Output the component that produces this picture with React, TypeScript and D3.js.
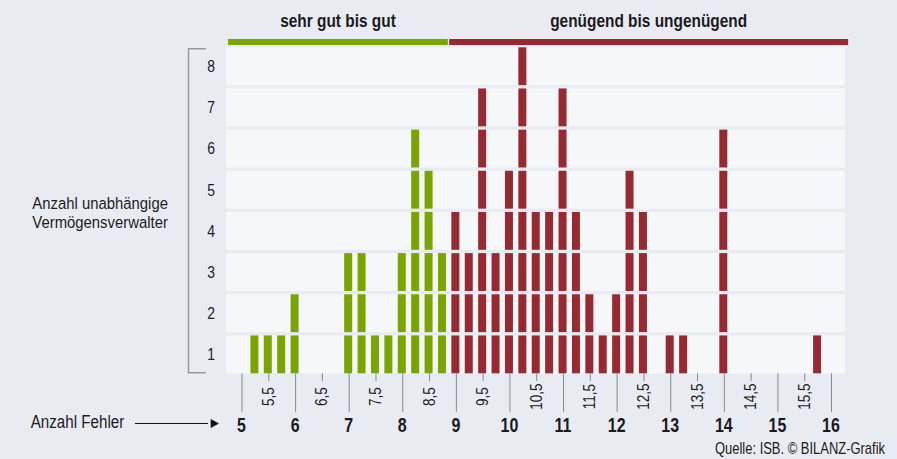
import React from "react";
import * as d3 from "d3";

// Anzahl Fehler (quarter steps) and number of asset managers per value
const fehler = [5.25, 5.5, 5.75, 6, 7, 7.25, 7.5, 7.75, 8, 8.25, 8.5, 8.75, 9, 9.25, 9.5, 9.75, 10, 10.25, 10.5, 10.75, 11, 11.25, 11.5, 11.75, 12, 12.25, 12.5, 13, 13.25, 14, 15.75];
const anzahl = [1, 1, 1, 2, 3, 3, 1, 1, 3, 6, 5, 3, 4, 3, 7, 3, 5, 8, 4, 4, 7, 4, 2, 1, 2, 5, 4, 1, 1, 6, 1];
const majorTicks = [5, 6, 7, 8, 9, 10, 11, 12, 13, 14, 15, 16];
const minorTicks = [5.5, 6.5, 7.5, 8.5, 9.5, 10.5, 11.5, 12.5, 13.5, 14.5, 15.5];
const yRows = [1, 2, 3, 4, 5, 6, 7, 8];
const groupLabels = ["sehr gut bis gut", "genügend bis ungenügend"];
const groupFrom = [4.75, 8.875];
const groupTo = [8.85, 16.32];
const yTitleLines = ["Anzahl unabhängige", "Vermögensverwalter"];
const threshold = 9;

const W = 897;
const H = 459;
const GREEN = "#7aa400";
const RED = "#962932";
const BG = "#e9ebf3";
const BAND = "#f6f7f9";
const TEXT = "#1b1b1b";
const FONT = "'Liberation Sans', Arial, sans-serif";
const NARROW = 0.82;

const plotLeft = 226;
const plotRight = 845;
const plotTop = 47.3;
const plotBottom = 373.3;

type NTProps = {
  x: number;
  y: number;
  size: number;
  anchor?: "start" | "middle" | "end";
  bold?: boolean;
  sx?: number;
  children: React.ReactNode;
};

function NText({ x, y, size, anchor = "start", bold = false, sx = NARROW, children }: NTProps) {
  return (
    <g transform={`translate(${x},${y}) scale(${sx},1)`}>
      <text x={0} y={0} textAnchor={anchor} fontFamily={FONT} fontWeight={bold ? "bold" : "normal"} fontSize={size} fill={TEXT}>
        {children}
      </text>
    </g>
  );
}

export default function App() {
  const x = d3.scaleLinear().domain([5, 16]).range([241.5, 831]);
  const y = d3.scaleBand<number>().domain(yRows).range([plotBottom, plotTop]).paddingInner(0.08).paddingOuter(0);
  const bw = y.bandwidth();
  const barW = 8;

  const rowsFor = (n: number) => d3.range(1, n + 1);

  return (
    <svg width={W} height={H} style={{ position: "absolute", left: 0, top: 0 }}>
      <rect x={0} y={0} width={W} height={H} fill={BG} />

      {/* header groups */}
      {groupLabels.map((lab, i) => {
        const x0 = x(groupFrom[i]);
        const x1 = x(groupTo[i]);
        return (
          <g key={lab}>
            <rect x={x0} y={39} width={x1 - x0} height={6} fill={i === 0 ? GREEN : RED} />
            <NText x={(x0 + x1) / 2} y={26.7} size={18.8} anchor="middle" bold>
              {lab}
            </NText>
          </g>
        );
      })}

      {/* row bands */}
      {yRows.map((r) => (
        <rect key={r} x={plotLeft} y={y(r)} width={plotRight - plotLeft} height={bw} fill={BAND} />
      ))}

      {/* bars */}
      {fehler.map((v, i) => (
        <g key={v}>
          {rowsFor(anzahl[i]).map((r) => (
            <rect key={r} x={x(v) - barW / 2 - 0.5} y={y(r)} width={barW} height={bw} fill={v < threshold ? GREEN : RED} />
          ))}
        </g>
      ))}

      {/* y bracket */}
      <path d={`M206,${plotTop + 1.4}H188.5V${plotBottom - 0.6}H206`} fill="none" stroke="#9a9a9a" strokeWidth={1.5} />
      {yRows.map((r) => (
        <NText key={r} x={211} y={(y(r) as number) + bw / 2 + 5.8} size={17} anchor="middle">
          {r}
        </NText>
      ))}
      {yTitleLines.map((line, i) => (
        <NText key={line} x={32.3} y={208.8 + i * 19.5} size={17.2} sx={0.865}>
          {line}
        </NText>
      ))}

      {/* x axis */}
      {majorTicks.map((t) => (
        <g key={t}>
          <line x1={x(t) + 0.5} x2={x(t) + 0.5} y1={plotBottom} y2={412} stroke="#8a8a8a" strokeWidth={1} />
          <NText x={x(t)} y={431.7} size={19.5} anchor="middle" bold>
            {t}
          </NText>
        </g>
      ))}
      {minorTicks.map((t) => (
        <g key={t}>
          <line x1={x(t) + 0.5} x2={x(t) + 0.5} y1={plotBottom} y2={381} stroke="#8a8a8a" strokeWidth={1} />
          <g transform={`translate(${x(t) + 5.5},396.7) rotate(-90) scale(${NARROW},1)`}>
            <text x={0} y={0} textAnchor="middle" fontFamily={FONT} fontSize={16.5} fill={TEXT}>
              {String(t).replace(".", ",")}
            </text>
          </g>
        </g>
      ))}

      <NText x={30.7} y={428.3} size={18.5}>Anzahl Fehler</NText>
      <line x1={135} x2={208} y1={423.5} y2={423.5} stroke="#111" strokeWidth={1} />
      <path d="M210.7,419L219,423.5L210.7,428Z" fill="#111" />

      <NText x={885} y={454} size={15.8} anchor="end">
        Quelle: ISB. © BILANZ-Grafik
      </NText>
    </svg>
  );
}
